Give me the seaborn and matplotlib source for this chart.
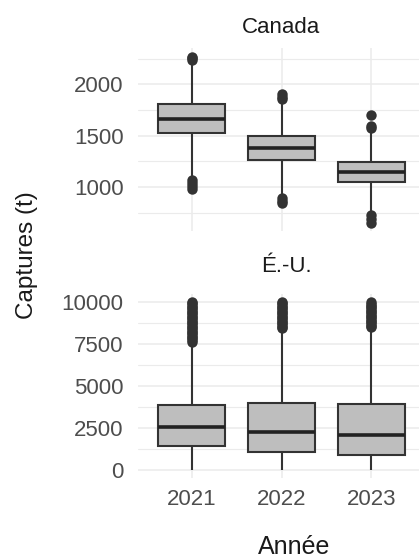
import pandas as pd
import numpy as np
import matplotlib
matplotlib.use('Agg')
import matplotlib.pyplot as plt
from matplotlib.ticker import MultipleLocator
import seaborn as sns

# Données (résumés des boîtes + valeurs aberrantes)
years = ['2021', '2022', '2023']

# Canada
can_low = [1100, 915, 770]
can_q1 = [1527, 1261, 1046]
can_med = [1663, 1381, 1145]
can_q3 = [1809, 1497, 1241]
can_high = [2190, 1830, 1530]
can_out_2021 = [2240, 2255, 2270, 985, 1010, 1040, 1070]
can_out_2022 = [1860, 1880, 1905, 840, 865, 895]
can_out_2023 = [1575, 1595, 1700, 650, 690, 725]
can_ticks = [1000, 1500, 2000]

# É.-U.
us_low = [0, 0, 0]
us_q1 = [1431, 1054, 894]
us_med = [2524, 2226, 2087]
us_q3 = [3876, 3975, 3916]
us_high = [7500, 8300, 8400]
us_out_2021 = [7650, 7750, 7850, 7950, 8050, 8150, 8250, 8350, 8450, 8550, 8650, 8750,
               8850, 8950, 9050, 9150, 9250, 9350, 9450, 9550, 9650, 9750, 9850, 9950, 10000]
us_out_2022 = [8450, 8550, 8650, 8750, 8850, 8950, 9050, 9150, 9250, 9350, 9450, 9550,
               9650, 9750, 9850, 9950, 10000]
us_out_2023 = [8500, 8600, 8700, 8800, 8900, 9000, 9100, 9200, 9300, 9400, 9500, 9600,
               9700, 9800, 9900, 10000]
us_ticks = [0, 2500, 5000, 7500, 10000]

BOX_FILL = '#BEBEBE'
DARK = '#333333'
GRID = '#EBEBEB'

sns.set_theme(style='white')
plt.rcParams['font.family'] = ['Liberation Sans', 'DejaVu Sans']


def box_frame(low, q1, med, q3, high):
    rows = []
    for i, yr in enumerate(years):
        for v in [low[i], q1[i], med[i], q3[i], high[i]]:
            rows.append({'Année': yr, 'Captures': v})
    return pd.DataFrame(rows)


def out_frame(outs):
    rows = []
    for yr, vals in zip(years, outs):
        for v in vals:
            rows.append({'Année': yr, 'Captures': v})
    return pd.DataFrame(rows)


def panel(ax, box_df, pts_df, ticks, minor_step):
    sns.boxplot(data=box_df, x='Année', y='Captures', order=years, whis=(0, 100),
                width=0.75, color=BOX_FILL, saturation=1, linecolor=DARK,
                linewidth=1.5, showcaps=False, showfliers=False,
                medianprops={'linewidth': 2.6, 'color': '#222222'}, ax=ax)
    sns.stripplot(data=pts_df, x='Année', y='Captures', order=years, jitter=False,
                  color=DARK, size=7.5, linewidth=0, ax=ax, zorder=4)
    allv = pd.concat([box_df['Captures'], pts_df['Captures']])
    lo, hi = allv.min(), allv.max()
    pad = (hi - lo) * 0.05
    ax.set_ylim(lo - pad, hi + pad)
    ax.set_xlim(-0.6, 2.6)
    ax.set_yticks(ticks)
    ax.yaxis.set_minor_locator(MultipleLocator(minor_step))
    ax.grid(True, which='major', color=GRID, linewidth=1.1, zorder=0)
    ax.grid(True, which='minor', axis='y', color=GRID, linewidth=0.8, zorder=0)
    ax.set_axisbelow(True)
    for s in ax.spines.values():
        s.set_visible(False)
    ax.tick_params(which='both', length=0, labelsize=16, labelcolor='#4D4D4D')
    ax.tick_params(axis='y', pad=10.5)
    ax.tick_params(axis='x', pad=8)
    ax.set_xlabel('')
    ax.set_ylabel('')


fig = plt.figure(figsize=(4.19, 5.6), dpi=100)
W, H = 419, 560
ax1 = fig.add_axes([138 / W, 1 - 231.3 / H, (425 - 138) / W, 183 / H])
ax2 = fig.add_axes([138 / W, 1 - 478 / H, (425 - 138) / W, 184 / H])

panel(ax1, box_frame(can_low, can_q1, can_med, can_q3, can_high),
      out_frame([can_out_2021, can_out_2022, can_out_2023]), can_ticks, 250)
panel(ax2, box_frame(us_low, us_q1, us_med, us_q3, us_high),
      out_frame([us_out_2021, us_out_2022, us_out_2023]), us_ticks, 1250)
ax1.tick_params(axis='x', labelbottom=False)

fig.text(281 / W, 1 - 33.3 / H, 'Canada', ha='center', va='baseline', fontsize=16, color='#1A1A1A')
fig.text(286 / W, 1 - 271.7 / H, 'É.-U.', ha='center', va='baseline', fontsize=16, color='#1A1A1A')
fig.text(294 / W, 1 - 554 / H, 'Année', ha='center', va='baseline', fontsize=18, color='#1A1A1A')
fig.text(27 / W, 1 - 255 / H, 'Captures (t)', ha='center', va='center', rotation=90,
         fontsize=17.5, color='#1A1A1A')

fig.savefig('out.png', dpi=100, facecolor='white')
